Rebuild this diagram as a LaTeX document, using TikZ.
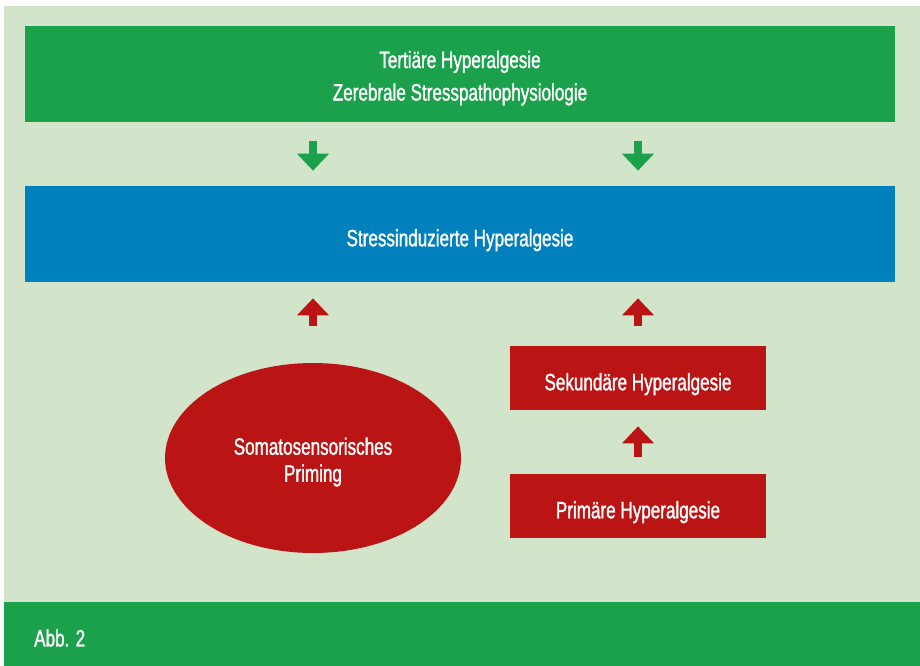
\documentclass[tikz,border=0pt]{standalone}
\usepackage{fontspec}
\setmainfont{Liberation Sans}[FakeStretch=0.72, FakeBold=1.3]
\usepackage{tikz}
\usetikzlibrary{positioning, shapes, arrows.meta, shapes.geometric}
\definecolor{abbgreen}{HTML}{1BA04B}
\definecolor{abbpale}{HTML}{D2E4CA}
\definecolor{abbblue}{HTML}{0080BD}
\definecolor{abbred}{HTML}{BA1414}
\tikzset{
    lift/.style = {execute at begin node={\rule{0pt}{#1}}},
    band/.style = {rectangle, inner sep=0pt, minimum width=17.4cm,
                        minimum height=1.92cm, align=center, text=white, lift=16.8pt},
    redbox/.style = {rectangle, fill=abbred, inner sep=0pt, minimum width=5.14cm,
                        minimum height=1.28cm, align=center, text=white, lift=16.8pt},
    redcirc/.style = {ellipse, fill=abbred, inner sep=0pt, minimum width=5.92cm,
                        minimum height=3.8cm, align=center, text=white, lift=29.7pt,
                        font=\fontsize{13.5}{15.3}\selectfont},
    fat/.style = {line width=0.15cm, -{Triangle[width=0.62cm, length=0.34cm]}}
}

\begin{document}
\begin{tikzpicture}[x=0.02cm, y=-0.02cm, font=\fontsize{13.5}{18.5}\selectfont]
		\useasboundingbox (0,0) rectangle (920,666);
		\fill [abbpale] (4,6) rectangle (920,602);
		\fill [abbgreen] (4,602) rectangle (920,666);
		\node (top) [band, fill=abbgreen, lift=33pt] at (460,74) {Tertiäre Hyperalgesie\\Zerebrale Stresspathophysiologie};
		\node (mid) [band, fill=abbblue] at (460,234) {Stressinduzierte Hyperalgesie};
		\node (prim) [redcirc] at (313,458) {Somatosensorisches\\Priming};
		\node (sek) [redbox] at (638,378) {Sekundäre Hyperalgesie};
		\node (pri) [redbox] at (638,506) {Primäre Hyperalgesie};
		\node (abb) [anchor=west, text=white] at (28,638) {Abb. 2};
		% Pfeile
		\draw [fat, abbgreen, shorten <=0.38cm, shorten >=0.3cm] (prim |- top.south) -- (prim |- mid.north);
		\draw [fat, abbgreen, shorten <=0.38cm, shorten >=0.3cm] (sek |- top.south) -- (sek |- mid.north);
		\draw [fat, abbred, shorten <=0.4cm, shorten >=0.32cm] (prim |- sek.north) -- (prim |- mid.south);
		\draw [fat, abbred, shorten <=0.4cm, shorten >=0.32cm] (sek.north) -- (sek |- mid.south);
		\draw [fat, abbred, shorten <=0.34cm, shorten >=0.32cm] (pri.north) -- (sek.south);
	\end{tikzpicture}
\end{document}
